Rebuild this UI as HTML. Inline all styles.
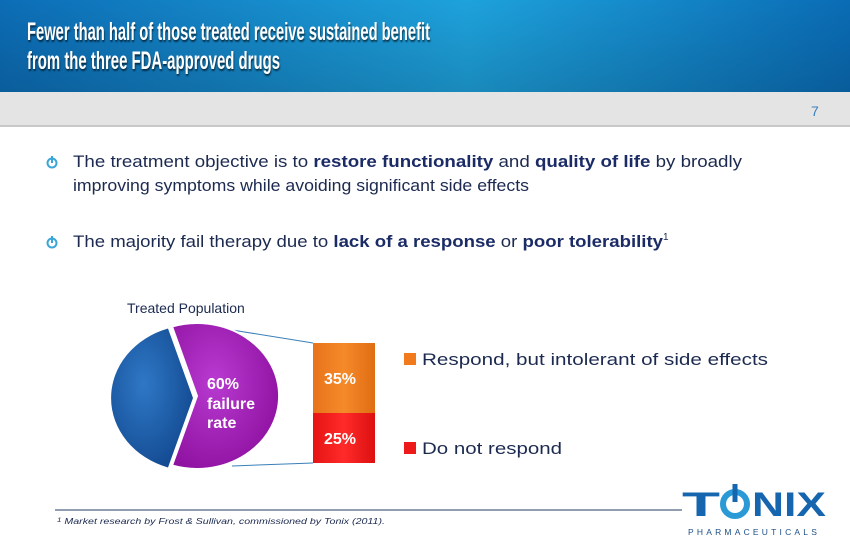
<!DOCTYPE html>
<html><head><meta charset="utf-8"><style>
html,body{margin:0;padding:0;background:#fff}
svg{display:block}
text{font-family:"Liberation Sans",sans-serif}
</style></head><body>
<svg width="850" height="550" viewBox="0 0 850 550" xmlns="http://www.w3.org/2000/svg">
<defs>
<linearGradient id="hdr" x1="0" y1="0" x2="1" y2="0">
<stop offset="0" stop-color="#0c6db6"/><stop offset="0.55" stop-color="#1ea2dc"/><stop offset="1" stop-color="#0a6cb5"/>
</linearGradient>
<linearGradient id="hdrv" x1="0" y1="0" x2="0" y2="1">
<stop offset="0" stop-color="#000" stop-opacity="0"/><stop offset="1" stop-color="#000" stop-opacity="0.15"/>
</linearGradient>
<radialGradient id="pur" cx="0.4" cy="0.4" r="0.7"><stop offset="0" stop-color="#b83ad0"/><stop offset="1" stop-color="#8c0f9e"/></radialGradient>
<radialGradient id="blu" cx="0.4" cy="0.4" r="0.7"><stop offset="0" stop-color="#2f78c6"/><stop offset="1" stop-color="#11478e"/></radialGradient>
<linearGradient id="org" x1="0" y1="0" x2="1" y2="0"><stop offset="0" stop-color="#e8731a"/><stop offset="0.5" stop-color="#f58a2a"/><stop offset="1" stop-color="#e06d12"/></linearGradient>
<linearGradient id="red" x1="0" y1="0" x2="1" y2="0"><stop offset="0" stop-color="#e61414"/><stop offset="0.5" stop-color="#ff2a2a"/><stop offset="1" stop-color="#dd1010"/></linearGradient>
</defs>
<rect x="0" y="0" width="850" height="92" fill="url(#hdr)"/>
<rect x="0" y="0" width="850" height="92" fill="url(#hdrv)"/>
<rect x="0" y="92" width="850" height="34" fill="#e4e4e4"/>
<rect x="0" y="125" width="850" height="2" fill="#c8c8c8"/>
<g font-weight="bold" font-size="25" fill="#fff" style="text-shadow:1px 2px 2px rgba(0,0,0,0.6)">
<text x="27" y="40" textLength="403" lengthAdjust="spacingAndGlyphs">Fewer than half of those treated receive sustained benefit</text>
<text x="27" y="69" textLength="253" lengthAdjust="spacingAndGlyphs">from the three FDA-approved drugs</text>
</g>
<text x="811" y="116" font-size="14" fill="#3a7fc0">7</text>
<g fill="none" stroke="#39a6da" stroke-width="2">
<circle cx="52" cy="163" r="4.5"/><line x1="52" y1="156" x2="52" y2="163"/>
<circle cx="52" cy="243" r="4.5"/><line x1="52" y1="236" x2="52" y2="243"/>
</g>
<g font-size="17" fill="#1c2a50">
<text x="73" y="167" textLength="669" lengthAdjust="spacingAndGlyphs">The treatment objective is to <tspan font-weight="bold" fill="#1b2b66">restore functionality</tspan> and <tspan font-weight="bold" fill="#1b2b66">quality of life</tspan> by broadly</text>
<text x="73" y="191" textLength="456" lengthAdjust="spacingAndGlyphs">improving symptoms while avoiding significant side effects</text>
<text x="73" y="247" textLength="590" lengthAdjust="spacingAndGlyphs">The majority fail therapy due to <tspan font-weight="bold" fill="#1b2b66">lack of a response</tspan> or <tspan font-weight="bold" fill="#1b2b66">poor tolerability</tspan></text>
<text x="663" y="240" font-size="10">1</text>
</g>
<text x="127" y="313" font-size="14" fill="#1c2a50">Treated Population</text>
<line x1="232" y1="330" x2="313" y2="343" stroke="#3a7fb8" stroke-width="1"/>
<line x1="232" y1="466" x2="313" y2="463" stroke="#3a7fb8" stroke-width="1"/>
<path d="M193,398 L168,328.5 A82,73 0 0 0 168,467.5 Z" fill="url(#blu)"/>
<path d="M197,396 L172,326.5 A82,73 0 1 1 172,465.5 Z" fill="url(#pur)" stroke="#fff" stroke-width="2"/>
<g font-size="16" font-weight="bold" fill="#fff">
<text x="207" y="389">60%</text><text x="207" y="409">failure</text><text x="207" y="428">rate</text>
</g>
<rect x="313" y="343" width="62" height="70" fill="url(#org)"/>
<rect x="313" y="413" width="62" height="50" fill="url(#red)"/>
<g font-size="16" font-weight="bold" fill="#fff">
<text x="324" y="384">35%</text><text x="324" y="444">25%</text>
</g>
<rect x="404" y="353" width="12" height="12" fill="#f07a1c"/>
<text x="422" y="365" font-size="17" fill="#1c2a50" textLength="346" lengthAdjust="spacingAndGlyphs">Respond, but intolerant of side effects</text>
<rect x="404" y="442" width="12" height="12" fill="#ee1a1a"/>
<text x="422" y="454" font-size="17" fill="#1c2a50" textLength="140" lengthAdjust="spacingAndGlyphs">Do not respond</text>
<line x1="55" y1="510" x2="682" y2="510" stroke="#6b7f95" stroke-width="1.5"/>
<text x="57" y="524" font-size="8" font-style="italic" fill="#1c2a50" textLength="328" lengthAdjust="spacingAndGlyphs"><tspan font-size="6" dy="-2">1</tspan><tspan dy="2"> Market research by Frost &amp; Sullivan, commissioned by Tonix (2011).</tspan></text>
<g font-weight="bold" font-size="34" fill="#1566ae">
<text x="682" y="516" textLength="38" lengthAdjust="spacingAndGlyphs">T</text>
<text x="752" y="516" textLength="74" lengthAdjust="spacingAndGlyphs">NIX</text>
</g>
<circle cx="735" cy="504" r="12" fill="none" stroke="#2a9ad6" stroke-width="6"/>
<line x1="735" y1="484" x2="735" y2="502" stroke="#1566ae" stroke-width="5"/>
<text x="688" y="535" font-size="8.5" fill="#1c4f86" letter-spacing="3.2">PHARMACEUTICALS</text>
</svg>
</body></html>
